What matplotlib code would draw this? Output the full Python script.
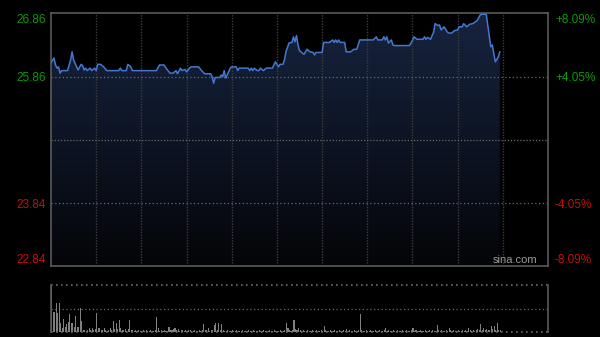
import numpy as np
import matplotlib
matplotlib.use("Agg")
import matplotlib.pyplot as plt
from matplotlib.colors import LinearSegmentedColormap

# ---------------- data ----------------
prev_close = 24.85
left_ticks = [22.84, 23.84, 25.86, 26.86]
left_labels = ["22.84", "23.84", "25.86", "26.86"]
right_labels = ["-8.09%", "-4.05%", "+4.05%", "+8.09%"]

minutes = [0, 2, 3, 4, 5, 6, 7, 11, 13, 14, 15, 17, 18, 20, 21, 22, 23, 24, 26, 27,
           29, 30, 31, 33, 35, 37, 45, 46, 47, 50, 51, 53, 54, 70, 72, 75, 77, 79, 81, 83,
           84, 86, 87, 89, 90, 92, 93, 98, 100, 102, 106, 107, 108, 109, 112, 113, 114, 115, 116, 117,
           119, 120, 123, 124, 125, 131, 132, 133, 134, 135, 137, 138, 139, 141, 143, 147, 149, 151, 152, 154,
           155, 156, 158, 160, 161, 162, 163, 164, 165, 168, 170, 172, 174, 175, 176, 180, 181, 185, 187, 188,
           189, 190, 191, 192, 195, 196, 199, 201, 203, 205, 214, 216, 217, 220, 221, 222, 223, 224, 226, 227,
           228, 238, 240, 241, 243, 247, 248, 249, 250, 252, 253, 254, 255, 257, 258, 259, 261, 263, 264, 266,
           268, 270, 271, 273, 274, 276, 278, 280, 283, 285, 286, 289, 290, 292, 293, 295, 297, 298]
prices = [26.09, 26.16, 26.05, 26.00, 26.02, 25.92, 25.96, 25.96, 26.13, 26.26, 26.13, 26.02, 25.97, 26.06, 26.04, 25.97, 26.00, 25.96, 26.00, 25.96,
          26.00, 25.96, 26.06, 26.06, 26.02, 25.96, 25.96, 26.00, 25.96, 25.96, 26.06, 26.02, 25.96, 25.96, 26.05, 26.05, 25.98, 25.92, 25.92, 25.96,
          25.91, 26.00, 25.96, 25.98, 25.94, 26.00, 26.02, 26.02, 25.96, 25.91, 25.91, 25.86, 25.76, 25.85, 25.85, 25.89, 25.86, 25.96, 25.84, 25.89,
          26.00, 26.02, 26.02, 25.96, 26.00, 26.00, 25.96, 26.00, 25.96, 26.00, 25.96, 25.96, 26.00, 25.96, 26.00, 26.00, 26.10, 26.02, 26.06, 26.06,
          26.13, 26.26, 26.40, 26.41, 26.50, 26.42, 26.52, 26.37, 26.28, 26.22, 26.30, 26.26, 26.25, 26.21, 26.25, 26.25, 26.41, 26.41, 26.45, 26.41,
          26.45, 26.41, 26.45, 26.41, 26.41, 26.26, 26.26, 26.30, 26.30, 26.45, 26.45, 26.50, 26.45, 26.45, 26.50, 26.45, 26.50, 26.40, 26.45, 26.37,
          26.36, 26.36, 26.44, 26.50, 26.46, 26.46, 26.50, 26.46, 26.49, 26.46, 26.52, 26.57, 26.71, 26.68, 26.69, 26.61, 26.66, 26.58, 26.56, 26.56,
          26.60, 26.61, 26.66, 26.66, 26.71, 26.66, 26.70, 26.71, 26.76, 26.85, 26.86, 26.86, 26.69, 26.34, 26.37, 26.10, 26.18, 26.26]

volumes = [47, 20, 20, 29, 19, 29, 9, 4, 13, 5,
           8, 10, 18, 9, 9, 5, 16, 5, 5, 24,
           11, 2, 2, 1, 2, 4, 2, 4, 2, 3,
           19, 4, 4, 2, 2, 4, 2, 1, 2, 4,
           2, 11, 3, 9, 3, 12, 4, 2, 2, 3,
           1, 3, 12, 2, 2, 1, 2, 1, 2, 1,
           1, 2, 1, 2, 1, 1, 2, 1, 1, 2,
           15, 4, 1, 2, 1, 2, 1, 1, 5, 2,
           2, 3, 4, 2, 3, 1, 2, 2, 1, 2,
           1, 2, 2, 1, 1, 2, 1, 1, 2, 1,
           2, 8, 2, 2, 4, 1, 2, 2, 7, 9,
           2, 9, 2, 8, 2, 1, 1, 2, 1, 1,
           2, 1, 1, 2, 1, 1, 1, 2, 1, 1,
           1, 2, 1, 1, 2, 1, 1, 1, 2, 1,
           1, 2, 1, 1, 1, 2, 1, 1, 2, 1,
           1, 1, 2, 1, 1, 2, 9, 4, 2, 1,
           2, 12, 3, 2, 4, 2, 1, 2, 1, 1,
           2, 1, 1, 2, 1, 1, 2, 1, 1, 2,
           1, 6, 2, 1, 1, 2, 1, 1, 2, 1,
           1, 2, 1, 1, 2, 1, 3, 1, 2, 1,
           1, 2, 1, 1, 2, 18, 2, 1, 1, 2,
           1, 1, 2, 1, 1, 2, 1, 1, 2, 1,
           1, 2, 4, 1, 2, 1, 1, 2, 1, 1,
           2, 1, 1, 2, 1, 1, 2, 1, 1, 2,
           4, 1, 2, 1, 1, 2, 1, 1, 2, 1,
           1, 2, 1, 2, 1, 1, 7, 2, 1, 2,
           1, 1, 2, 1, 4, 2, 1, 2, 1, 1,
           2, 1, 1, 2, 1, 2, 1, 4, 2, 1,
           2, 1, 2, 3, 2, 8, 2, 4, 2, 3,
           2, 2, 6, 3, 6, 2, 9, 2, 2]

total_minutes = 330
grid_minutes = [30, 60, 90, 120, 150, 180, 210, 240, 270, 300]

# ---------------- figure ----------------
plt.rcParams['font.family'] = ['Liberation Sans', 'DejaVu Sans']
W, H = 600, 337
fig = plt.figure(figsize=(W / 100, H / 100), dpi=100, facecolor='black')

def box(x0, y0, x1, y1):
    return [x0 / W, 1 - y1 / H, (x1 - x0) / W, (y1 - y0) / H]

ax = fig.add_axes(box(51, 13, 548, 266))
ax.set_facecolor('black')
ymin, ymax = 22.84, 26.88
ax.set_xlim(0, total_minutes)
ax.set_ylim(ymin, ymax)

# gradient fill under the line
poly = ax.fill_between(minutes, prices, ymin, facecolor='none', edgecolor='none')
cmap = LinearSegmentedColormap.from_list('g', ['#040508', '#0d1424', '#17243f'])
grad = np.linspace(0, 1, 256).reshape(-1, 1)
im = ax.imshow(grad, cmap=cmap, aspect='auto', origin='lower',
               extent=[0, total_minutes, ymin, ymax], zorder=1)
im.set_clip_path(poly.get_paths()[0], transform=ax.transData)

# grid
for gm in grid_minutes:
    ax.axvline(gm, color='#3c3c3c', lw=1.0, ls=(0, (1, 1)), zorder=2)
for gv in [25.86, 23.84]:
    ax.axhline(gv, color='#6a6a6a', lw=0.9, ls=(0, (1, 2)), zorder=2)
ax.axhline(prev_close, color='#6a6a6a', lw=0.9, ls=(0, (1, 1.5)), zorder=2)

ax.plot(minutes, prices, color='#4478d0', lw=1.1, zorder=3)

for s in ax.spines.values():
    s.set_color('#5a5a5a')
    s.set_linewidth(1.2)

ax.set_xticks([])
ax.set_yticks(left_ticks)
ax.set_yticklabels(left_labels)
ax.tick_params(axis='y', length=0, pad=4, labelsize=8.5)
lab_colors = ['#c80c0c', '#c80c0c', '#0c9a0c', '#0c9a0c']
for t, c in zip(ax.get_yticklabels(), lab_colors):
    t.set_color(c)
ax.get_yticklabels()[0].set_va('bottom')
ax.get_yticklabels()[-1].set_va('top')

ax2 = ax.twinx()
ax2.set_ylim(ymin, ymax)
ax2.set_yticks(left_ticks)
ax2.set_yticklabels(right_labels)
ax2.tick_params(axis='y', length=0, pad=5, labelsize=8.5)
for t, c in zip(ax2.get_yticklabels(), lab_colors):
    t.set_color(c)
ax2.get_yticklabels()[0].set_va('bottom')
ax2.get_yticklabels()[-1].set_va('top')
for s in ax2.spines.values():
    s.set_visible(False)

ax.text(0.978, 0.005, 'sina.com', transform=ax.transAxes, ha='right', va='bottom',
        color='#9a9a9a', fontsize=8, zorder=4)

# volume panel
axv = fig.add_axes(box(51, 285, 548, 332))
axv.set_facecolor('black')
axv.set_xlim(0, total_minutes)
axv.set_ylim(0, max(volumes))
axv.bar(np.arange(len(volumes)), volumes, width=0.7, color='#808080', align='edge')
axv.axhline(max(volumes) / 2, color='#6a6a6a', lw=0.9, ls=(0, (1, 2)))
axv.axhline(max(volumes), color='#6a6a6a', lw=1.2, ls=(0, (1, 2)), clip_on=False)
axv.axhline(0, color='#6a6a6a', lw=1.2, ls=(0, (1, 2)), clip_on=False)
axv.spines['top'].set_visible(False)
axv.spines['bottom'].set_visible(False)
for k in ['left', 'right']:
    axv.spines[k].set_color('#5a5a5a')
    axv.spines[k].set_linewidth(1.2)
axv.set_xticks([])
axv.set_yticks([])

fig.savefig('out.png', dpi=100, facecolor='black')
